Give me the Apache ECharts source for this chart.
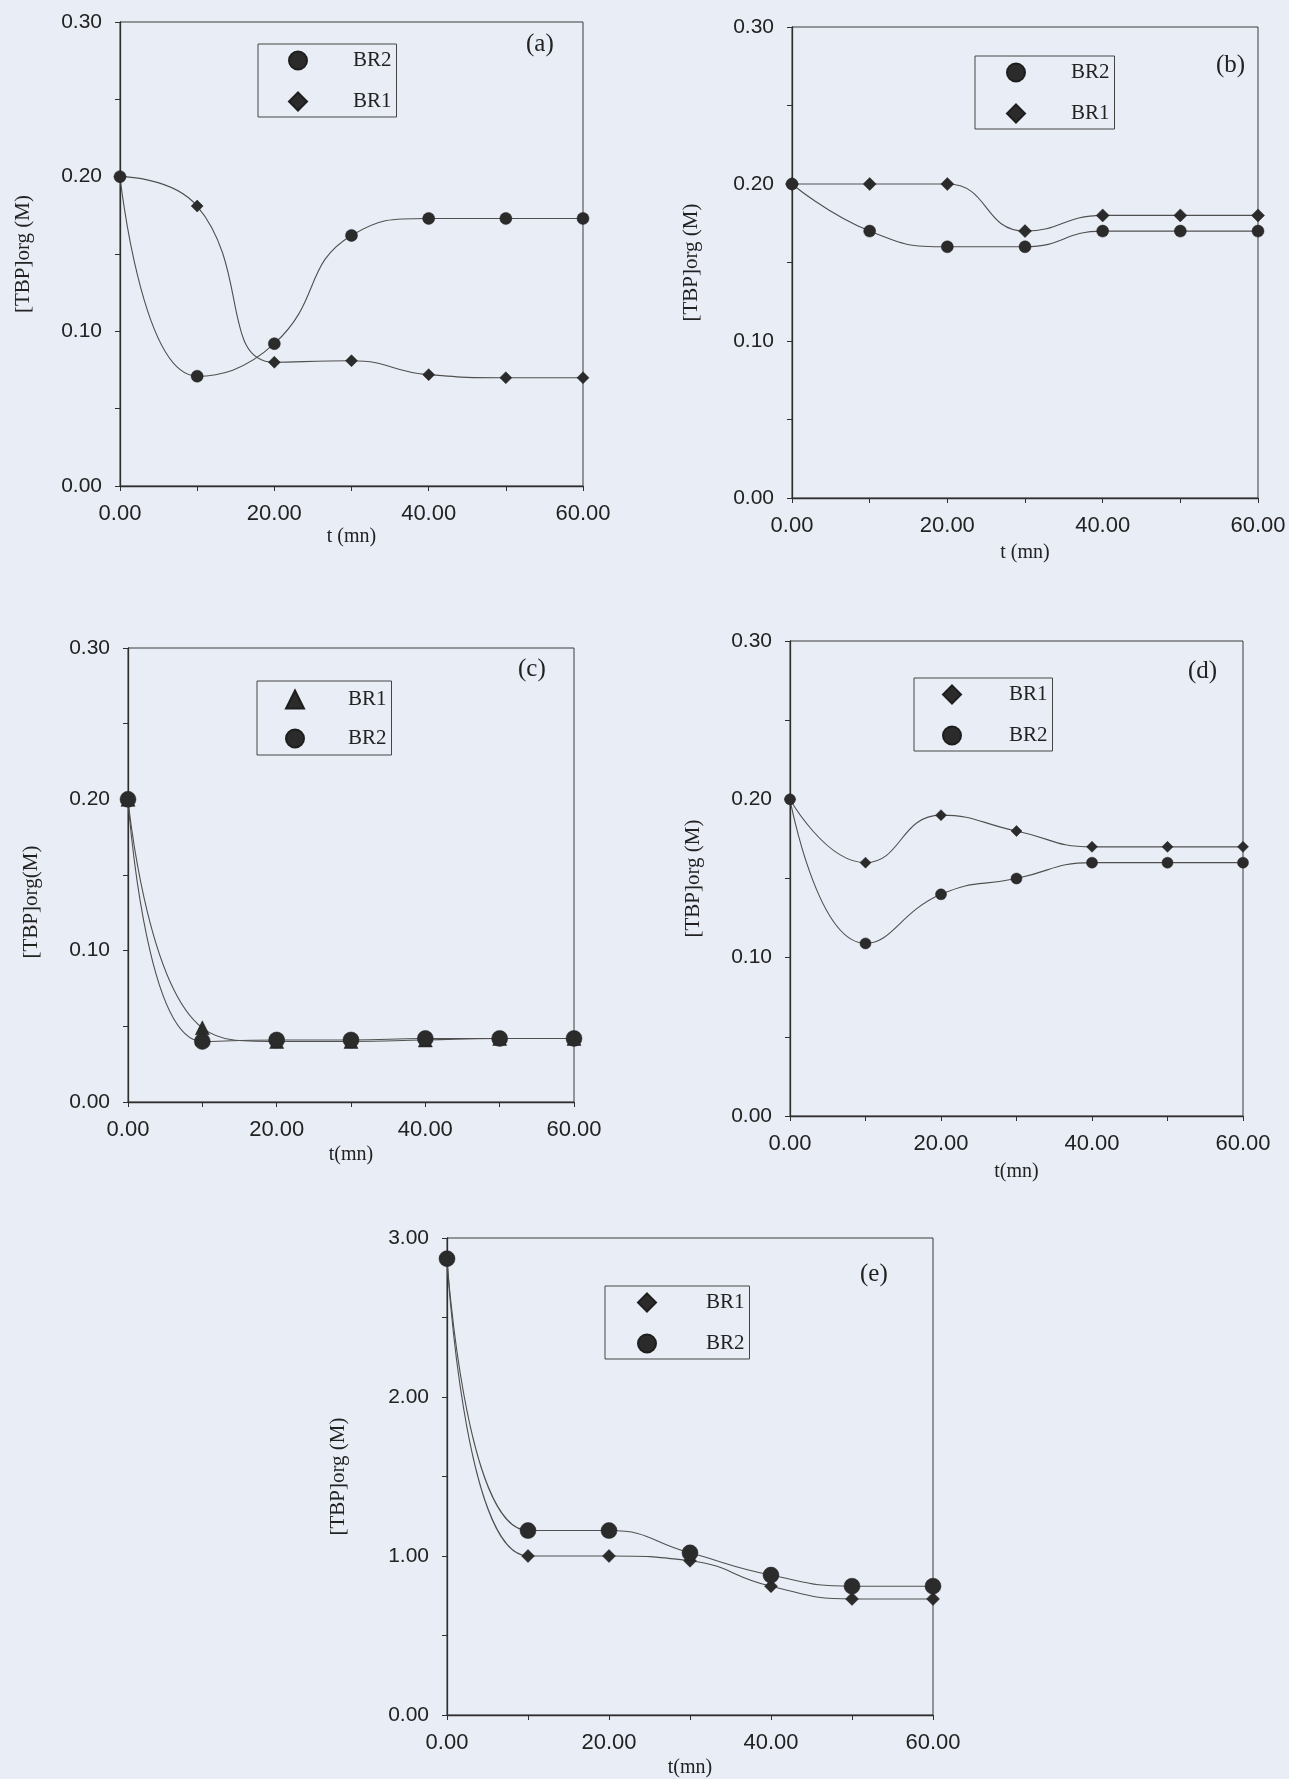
<!DOCTYPE html>
<html>
<head>
<meta charset="utf-8">
<script src="https://cdn.jsdelivr.net/npm/echarts@6/dist/echarts.min.js"></script>
<style>
html, body { margin: 0; padding: 0; background: #e9eef6; }
#chart { width: 1289px; height: 1779px; }
</style>
</head>
<body>
<div id="chart"></div>
<script>
// time points (mn), shared by every panel
const tValues = [0, 10, 20, 30, 40, 50, 60];

// panel (a)
const aBR1 = [0.200, 0.181, 0.080, 0.081, 0.072, 0.070, 0.070];
const aBR2 = [0.200, 0.071, 0.092, 0.162, 0.173, 0.173, 0.173];
// panel (b)
const bBR1 = [0.200, 0.200, 0.200, 0.170, 0.180, 0.180, 0.180];
const bBR2 = [0.200, 0.170, 0.160, 0.160, 0.170, 0.170, 0.170];
// panel (c)
const cBR1 = [0.200, 0.049, 0.040, 0.040, 0.041, 0.042, 0.042];
const cBR2 = [0.200, 0.040, 0.041, 0.041, 0.042, 0.042, 0.042];
// panel (d)
const dBR1 = [0.200, 0.160, 0.190, 0.180, 0.170, 0.170, 0.170];
const dBR2 = [0.200, 0.109, 0.140, 0.150, 0.160, 0.160, 0.160];
// panel (e)
const eBR1 = [2.87, 1.00, 1.00, 0.97, 0.81, 0.73, 0.73];
const eBR2 = [2.87, 1.16, 1.16, 1.02, 0.88, 0.81, 0.81];

const panelTags = ['(a)', '(b)', '(c)', '(d)', '(e)'];
const xAxisTitles = ['t (mn)', 't (mn)', 't(mn)', 't(mn)', 't(mn)'];
const yAxisTitles = ['[TBP]org (M)', '[TBP]org (M)', '[TBP]org(M)', '[TBP]org (M)', '[TBP]org (M)'];

const SERIF = '"Liberation Serif", "Times New Roman", serif';
const SANS = '"Liberation Sans", Arial, sans-serif';
const INK = '#222';
const MARK = '#2b2b2b';
const LINE = '#505050';

// plot boxes, in page pixels
const panels = [
  { grid: { left: 120, top: 22, width: 463, height: 464 }, yMax: 0.3, yStep: 0.1, yGap: 86, xGap: 41, yPad: 0,
    tag: { left: 526, top: 32 },
    legend: { left: 258, top: 44, pad: [6, 5, 5, 30], gap: 20, txtGap: 41 },
    series: [
      { name: 'BR1', data: aBR1, symbol: 'diamond', size: 12 },
      { name: 'BR2', data: aBR2, symbol: 'circle', size: 12 },
    ],
    legendItems: [{ name: 'BR2', icon: 'circle' }, { name: 'BR1', icon: 'diamond' }] },
  { grid: { left: 792, top: 27, width: 466, height: 471 }, yMax: 0.3, yStep: 0.1, yGap: 90, xGap: 45, yPad: 0,
    tag: { left: 1216, top: 53 },
    legend: { left: 975, top: 56, pad: [6, 5, 5, 31], gap: 20, txtGap: 41 },
    series: [
      { name: 'BR1', data: bBR1, symbol: 'diamond', size: 13 },
      { name: 'BR2', data: bBR2, symbol: 'circle', size: 12 },
    ],
    legendItems: [{ name: 'BR2', icon: 'circle' }, { name: 'BR1', icon: 'diamond' }] },
  { grid: { left: 128, top: 648, width: 446, height: 454 }, yMax: 0.3, yStep: 0.1, yGap: 86, xGap: 43, yPad: 54,
    tag: { left: 518, top: 657 },
    legend: { left: 257, top: 681, pad: [8, 5, 6, 28], gap: 18, txtGap: 39 },
    series: [
      { name: 'BR1', data: cBR1, symbol: 'triangle', size: 14 },
      { name: 'BR2', data: cBR2, symbol: 'circle', size: 16 },
    ],
    legendItems: [{ name: 'BR1', icon: 'triangle' }, { name: 'BR2', icon: 'circle' }] },
  { grid: { left: 790, top: 641, width: 453, height: 475 }, yMax: 0.3, yStep: 0.1, yGap: 86, xGap: 46, yPad: 0,
    tag: { left: 1188, top: 659 },
    legend: { left: 914, top: 678, pad: [6, 5, 5, 28], gap: 20, txtGap: 43 },
    series: [
      { name: 'BR1', data: dBR1, symbol: 'diamond', size: 11 },
      { name: 'BR2', data: dBR2, symbol: 'circle', size: 11 },
    ],
    legendItems: [{ name: 'BR1', icon: 'diamond' }, { name: 'BR2', icon: 'circle' }] },
  { grid: { left: 447, top: 1238, width: 486, height: 477 }, yMax: 3, yStep: 1, yGap: 98, xGap: 43, yPad: 0,
    tag: { left: 860, top: 1262 },
    legend: { left: 605, top: 1286, pad: [6, 5, 5, 32], gap: 20, txtGap: 45 },
    series: [
      { name: 'BR1', data: eBR1, symbol: 'diamond', size: 13 },
      { name: 'BR2', data: eBR2, symbol: 'circle', size: 16 },
    ],
    legendItems: [{ name: 'BR1', icon: 'diamond' }, { name: 'BR2', icon: 'circle' }] },
];

const toPoints = (ys) => tValues.map((t, i) => [t, ys[i]]);

const option = {
  backgroundColor: '#e9eef6',
  animation: false,
  title: [],
  grid: [],
  xAxis: [],
  yAxis: [],
  legend: [],
  series: [],
};

panels.forEach((p, i) => {
  option.grid.push(Object.assign({
    show: true,
    borderColor: '#3a3a3a',
    borderWidth: 1,
    backgroundColor: 'transparent',
  }, p.grid));

  option.title.push({
    text: panelTags[i],
    left: p.tag.left,
    top: p.tag.top,
    padding: 0,
    textStyle: { fontFamily: SERIF, fontSize: 25, fontWeight: 'normal', color: INK },
  });

  option.xAxis.push({
    type: 'value',
    gridIndex: i,
    min: 0,
    max: 60,
    interval: 20,
    name: xAxisTitles[i],
    nameLocation: 'middle',
    nameGap: p.xGap,
    nameTextStyle: { fontFamily: SERIF, fontSize: 20, color: INK },
    axisLine: { lineStyle: { color: '#2f2f2f', width: 1.3 } },
    axisTick: { show: true, length: 5, lineStyle: { color: '#2f2f2f' } },
    minorTick: { show: true, splitNumber: 2, length: 5, lineStyle: { color: '#2f2f2f' } },
    splitLine: { show: false },
    axisLabel: {
      margin: 17,
      fontFamily: SANS,
      fontSize: 22,
      color: INK,
      formatter: (v) => v.toFixed(2),
    },
  });

  option.yAxis.push({
    type: 'value',
    gridIndex: i,
    min: 0,
    max: p.yMax,
    interval: p.yStep,
    name: yAxisTitles[i],
    nameLocation: 'middle',
    nameRotate: 90,
    nameGap: p.yGap,
    nameTextStyle: { fontFamily: SERIF, fontSize: 21, color: INK, padding: [0, p.yPad, 0, 0] },
    axisLine: { lineStyle: { color: '#2f2f2f', width: 1.3 } },
    axisTick: { show: true, length: 5, lineStyle: { color: '#2f2f2f' } },
    minorTick: { show: true, splitNumber: 2, length: 5, lineStyle: { color: '#2f2f2f' } },
    splitLine: { show: false },
    axisLabel: {
      margin: 18,
      fontFamily: SANS,
      fontSize: 21,
      color: INK,
      formatter: (v) => v.toFixed(2),
    },
  });

  option.legend.push({
    orient: 'vertical',
    left: p.legend.left,
    top: p.legend.top,
    padding: p.legend.pad,
    itemGap: p.legend.gap,
    itemWidth: 18,
    itemHeight: 18,
    selectedMode: false,
    borderColor: '#444',
    borderWidth: 1,
    backgroundColor: 'transparent',
    data: p.legendItems.map((it) => ({ name: it.name, icon: it.icon, itemStyle: { color: MARK } })),
    formatter: (name) => '{g|}' + name,
    textStyle: {
      fontFamily: SERIF,
      fontSize: 21,
      color: INK,
      rich: { g: { width: p.legend.txtGap } },
    },
  });

  p.series.forEach((s) => {
    option.series.push({
      type: 'line',
      name: s.name,
      xAxisIndex: i,
      yAxisIndex: i,
      data: toPoints(s.data),
      smooth: 0.5,
      symbol: s.symbol,
      symbolSize: s.size,
      showAllSymbol: true,
      lineStyle: { color: LINE, width: 1.1 },
      itemStyle: { color: MARK, borderColor: '#1e1e1e', borderWidth: 0.5 },
      emphasis: { disabled: true },
    });
  });
});

const chart = echarts.init(document.getElementById('chart'));
chart.setOption(option);
window.addEventListener('resize', () => chart.resize());
</script>
</body>
</html>
